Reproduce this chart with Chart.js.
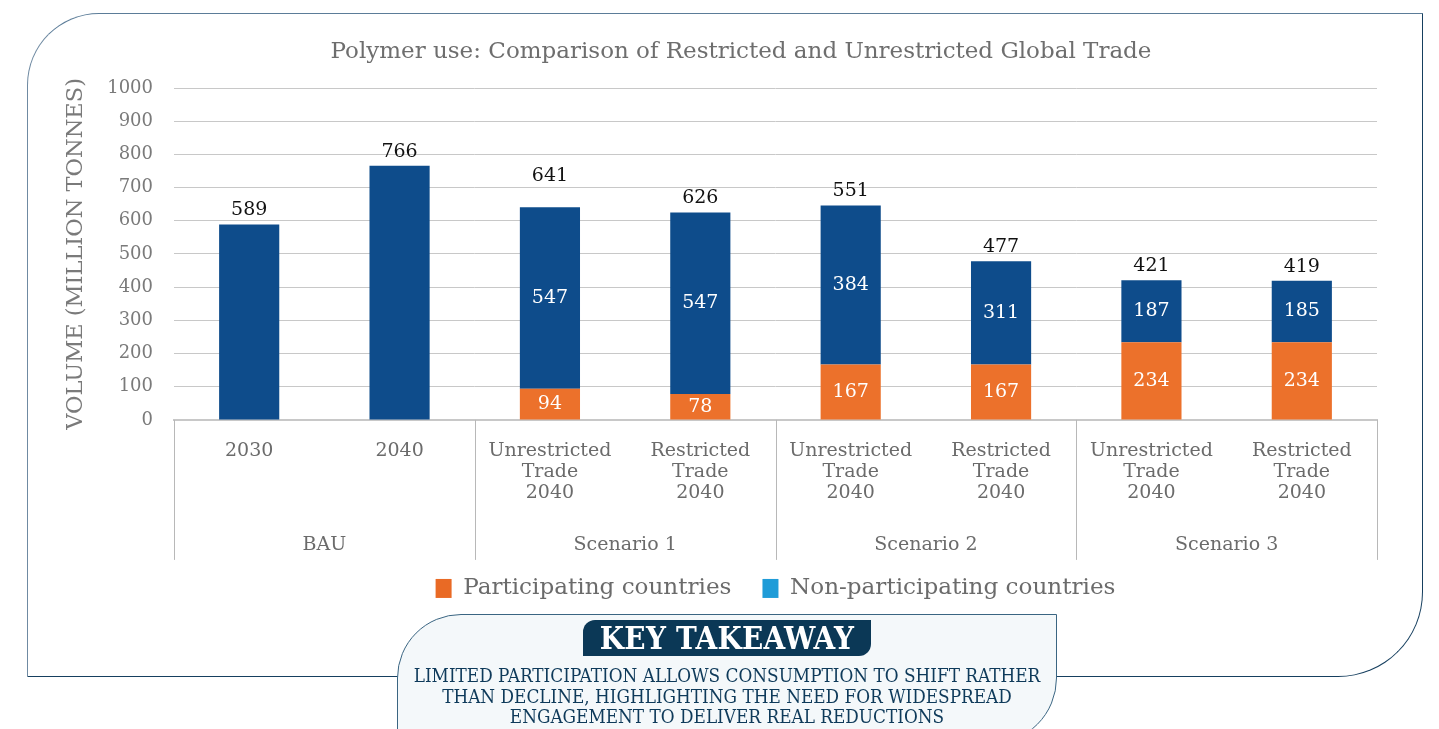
<!DOCTYPE html>
<html>
<head>
<meta charset="utf-8">
<script src="https://cdn.jsdelivr.net/npm/chart.js@4"></script>
<style>
  html, body { margin: 0; padding: 0; background: #ffffff; width: 1439px; height: 729px; overflow: hidden; }
  #frame {
    position: absolute; left: 27px; top: 13px; width: 1394px; height: 662px;
    border: 1.5px solid #163f5f;
    border-top-color: #5b7c98; border-left-color: #6f8aa2;
    border-top-left-radius: 72px; border-bottom-right-radius: 85px;
    box-sizing: content-box;
  }
  #wrap { position: absolute; left: 0; top: 0; width: 1439px; height: 729px; }
  #title {
    position: absolute; left: 241px; top: 35px; width: 1000px; text-align: center;
    font-family: "DejaVu Serif", serif; font-size: 23px; line-height: 30px; color: #6e6e6e;
  }
  #takeaway {
    position: absolute; left: 397px; top: 614px; width: 660px; height: 130px;
    border: 1.5px solid #3a6582; background: #f4f8fa;
    border-top-left-radius: 64px; border-bottom-right-radius: 66px;
    box-sizing: border-box;
  }
  #ktitle {
    position: absolute; left: 583px; top: 620px; width: 288px; height: 36px;
    background: #0b3856; color: #ffffff;
    border-top-left-radius: 12px; border-bottom-right-radius: 12px;
    font-family: "DejaVu Serif", serif; font-weight: bold; font-stretch: condensed;
    font-size: 31px; line-height: 37px; text-align: center; letter-spacing: 0.3px;
  }
  #ktext {
    position: absolute; left: 397px; top: 666px; width: 660px; text-align: center;
    color: #0e3a5a; font-family: "DejaVu Serif", serif; font-stretch: condensed;
    font-size: 18.8px; line-height: 20.5px; white-space: nowrap;
  }
</style>
</head>
<body>
<div id="frame"></div>
<div id="wrap"><canvas id="c" width="1439" height="729"></canvas></div>
<div id="title">Polymer use: Comparison of Restricted and Unrestricted Global Trade</div>
<div id="takeaway"></div>
<div id="ktitle">KEY TAKEAWAY</div>
<div id="ktext">LIMITED PARTICIPATION ALLOWS CONSUMPTION TO SHIFT RATHER<br>THAN DECLINE, HIGHLIGHTING THE NEED FOR WIDESPREAD<br>ENGAGEMENT TO DELIVER REAL REDUCTIONS</div>
<script>
// ---- data ----
const categories = [
  ['2030'], ['2040'],
  ['Unrestricted', 'Trade', '2040'], ['Restricted', 'Trade', '2040'],
  ['Unrestricted', 'Trade', '2040'], ['Restricted', 'Trade', '2040'],
  ['Unrestricted', 'Trade', '2040'], ['Restricted', 'Trade', '2040']
];
const groups = ['BAU', 'Scenario 1', 'Scenario 2', 'Scenario 3'];
const groupSizes = [2, 2, 2, 2];
const seriesNames = ['Participating countries', 'Non-participating countries'];
// bar segment heights as drawn
const participating = [null, null, 94, 78, 167, 167, 234, 234];
const nonParticipating = [589, 766, 547, 547, 479, 311, 187, 185];
// printed value labels
const participatingLabels = [null, null, 94, 78, 167, 167, 234, 234];
const nonParticipatingLabels = [null, null, 547, 547, 384, 311, 187, 185];
const totalLabels = [589, 766, 641, 626, 551, 477, 421, 419];
const yTickValues = [0, 100, 200, 300, 400, 500, 600, 700, 800, 900, 1000];

const SERIF = '"DejaVu Serif", serif';
const ORANGE = '#ec712b';
const NAVY = '#0e4c8b';
const LEGEND_COLORS = ['#e96a25', '#1f9cd8'];

const valueLabelPlugin = {
  id: 'valueLabels',
  afterDatasetsDraw(chart) {
    const ctx = chart.ctx;
    ctx.save();
    ctx.textAlign = 'center';
    ctx.textBaseline = 'middle';
    ctx.font = '19px ' + SERIF;
    const inner = [participatingLabels, nonParticipatingLabels];
    chart.data.datasets.forEach((ds, di) => {
      const meta = chart.getDatasetMeta(di);
      meta.data.forEach((bar, i) => {
        const lbl = inner[di][i];
        if (lbl === null || lbl === undefined) return;
        ctx.fillStyle = '#ffffff';
        ctx.fillText(String(lbl), bar.x, (bar.y + bar.base) / 2);
      });
    });
    const top = chart.getDatasetMeta(1);
    ctx.fillStyle = '#111111';
    top.data.forEach((bar, i) => {
      const lift = (i === 2) ? 31 : 14;
      ctx.fillText(String(totalLabels[i]), bar.x, bar.y - lift);
    });
    ctx.restore();
  }
};

const groupAxisPlugin = {
  id: 'groupAxis',
  afterDraw(chart) {
    const ctx = chart.ctx;
    const xs = chart.scales.x;
    const area = chart.chartArea;
    const y0 = area.bottom;
    const y1 = area.bottom + 140;
    const px = i => xs.getPixelForValue(i);
    ctx.save();
    ctx.strokeStyle = '#b8b8b8';
    ctx.lineWidth = 1;
    ctx.fillStyle = '#6b6b6b';
    ctx.font = '19px ' + SERIF;
    ctx.textAlign = 'center';
    ctx.textBaseline = 'middle';
    let start = 0;
    const bounds = [area.left];
    groupSizes.forEach((n, g) => {
      const end = start + n - 1;
      const right = (end === categories.length - 1) ? area.right : (px(end) + px(end + 1)) / 2;
      bounds.push(right);
      const left = bounds[g];
      ctx.fillText(groups[g], (left + right) / 2, y0 + 125);
      start = end + 1;
    });
    bounds.forEach(b => {
      const xx = Math.round(b) + 0.5;
      ctx.beginPath();
      ctx.moveTo(xx, y0);
      ctx.lineTo(xx, y1);
      ctx.stroke();
    });
    ctx.restore();
  }
};

new Chart(document.getElementById('c'), {
  type: 'bar',
  data: {
    labels: categories,
    datasets: [
      { label: seriesNames[0], data: participating, backgroundColor: ORANGE, stack: 's' },
      { label: seriesNames[1], data: nonParticipating, backgroundColor: NAVY, stack: 's' }
    ]
  },
  options: {
    responsive: false,
    animation: false,
    devicePixelRatio: 1,
    layout: { padding: { left: 58, right: 62, top: 88, bottom: 119 } },
    datasets: { bar: { barPercentage: 0.4, categoryPercentage: 1.0 } },
    scales: {
      x: {
        stacked: true,
        grid: { display: false, drawTicks: false },
        border: { display: true, color: '#c8c8c8', width: 2 },
        ticks: {
          color: '#6b6b6b', padding: 21, maxRotation: 0, autoSkip: false,
          font: { family: SERIF, size: 19, lineHeight: 1.1 }
        },
        afterFit(s) { s.height = 126; }
      },
      y: {
        stacked: true,
        min: 0, max: 1000,
        afterBuildTicks(s) { s.ticks = yTickValues.map(v => ({ value: v })); },
        grid: { color: '#c8c8c8', drawTicks: false, lineWidth: 1 },
        border: { display: false },
        ticks: {
          color: '#7a7a7a', padding: 21, font: { family: SERIF, size: 18 },
          callback: v => String(v)
        },
        title: {
          display: true, text: 'VOLUME (MILLION TONNES)', color: '#7a7a7a',
          font: { family: SERIF, size: 22.5 }, padding: { top: 5, bottom: 0 }
        },
        afterFit(s) { s.width = 116; }
      }
    },
    plugins: {
      title: { display: false },
      legend: {
        position: 'bottom',
        fullSize: false,
        labels: {
          color: '#6b6b6b', boxWidth: 16, boxHeight: 19, padding: 31,
          font: { family: SERIF, size: 23.1 },
          generateLabels(chart) {
            return chart.data.datasets.map((ds, i) => ({
              text: ds.label, fillStyle: LEGEND_COLORS[i], strokeStyle: LEGEND_COLORS[i],
              lineWidth: 0, hidden: false, datasetIndex: i, fontColor: '#6b6b6b'
            }));
          }
        }
      },
      tooltip: { enabled: false }
    }
  },
  plugins: [valueLabelPlugin, groupAxisPlugin]
});
</script>
</body>
</html>
